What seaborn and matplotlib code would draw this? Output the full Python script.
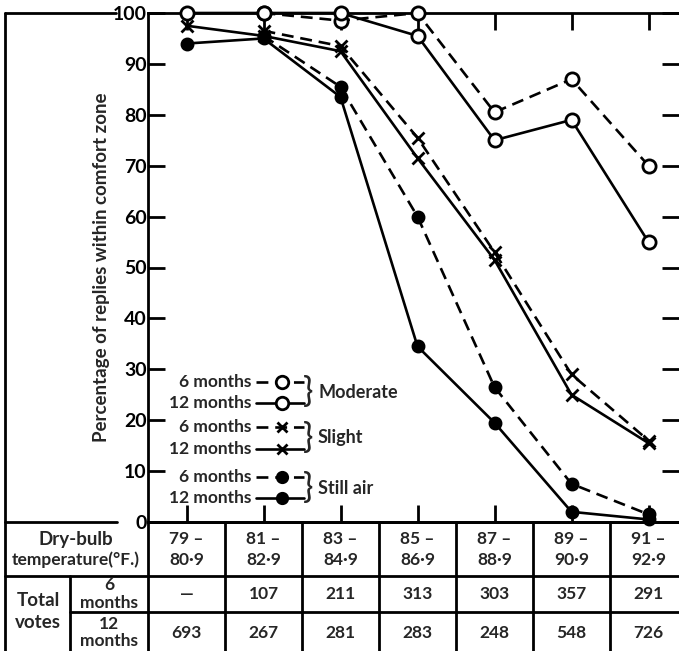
import numpy as np
import pandas as pd
import matplotlib
matplotlib.use("Agg")
import matplotlib.pyplot as plt
import seaborn as sns
from matplotlib.transforms import blended_transform_factory
from matplotlib.lines import Line2D

# ---------------- data ----------------
temp_low = ["79 –", "81 –", "83 –", "85 –", "87 –", "89 –", "91 –"]
temp_high = ["80·9", "82·9", "84·9", "86·9", "88·9", "90·9", "92·9"]
votes_6 = ["—", "107", "211", "313", "303", "357", "291"]
votes_12 = ["693", "267", "281", "283", "248", "548", "726"]

moderate_6 = [np.nan, 100, 98.5, 100, 80.5, 87, 70]
moderate_12 = [100, 100, 100, 95.5, 75, 79, 55]
slight_6 = [np.nan, 96.5, 93.5, 75.5, 53, 29, 16]
slight_12 = [97.5, 95.5, 92.5, 71.5, 51.5, 25, 15.5]
still_6 = [np.nan, 95.5, 85.5, 60, 26.5, 7.5, 1.5]
still_12 = [94, 95, 83.5, 34.5, 19.5, 2, 0.5]

y_ticks = [0, 10, 20, 30, 40, 50, 60, 70, 80, 90, 100]
y_label = "Percentage of replies within comfort zone"

# ---------------- style ----------------
sns.set_theme(style="white")
plt.rcParams["font.family"] = ["Lato", "DejaVu Sans"]
plt.rcParams["axes.linewidth"] = 2.0
FW = "bold"

W, H = 679, 651
fig = plt.figure(figsize=(W / 100, H / 100), dpi=100)
fig.patch.set_facecolor("white")

ax_l, ax_r, ax_t, ax_b = 148, 679, 13, 522
ax = fig.add_axes([ax_l / W, 1 - ax_b / H, (ax_r - ax_l) / W, (ax_b - ax_t) / H])
ax.set_facecolor("white")

x = np.arange(len(temp_low))
dash = (0, (4.5, 2.6))
series = [
    (moderate_6, "o", "white", dash, 9.5),
    (moderate_12, "o", "white", "-", 9.5),
    (slight_6, "x", "black", dash, 8.5),
    (slight_12, "x", "black", "-", 8.5),
    (still_6, "o", "black", dash, 8.0),
    (still_12, "o", "black", "-", 8.0),
]
for vals, mk, mfc, ls, ms in series:
    df = pd.DataFrame({"x": x, "y": vals}).dropna()
    sns.lineplot(data=df, x="x", y="y", ax=ax, color="black", marker=mk,
                 markerfacecolor=mfc, markeredgecolor="black", markeredgewidth=2.0,
                 markersize=ms, linestyle=ls, linewidth=1.9, clip_on=False,
                 zorder=3)

col_w = 77.0
ax.set_xlim(-0.5, -0.5 + (ax_r - ax_l) / col_w)
ax.set_ylim(0, 100)
ax.set_yticks(y_ticks)
ax.set_yticklabels([str(t) for t in y_ticks], fontsize=14, fontweight="bold")
ax.set_xticks(x)
ax.set_xticklabels([])
ax.tick_params(axis="both", direction="in", length=12, width=2.0, colors="black",
               top=True, right=True, bottom=True, left=True, pad=1)
ax.tick_params(axis="y", labelleft=True, labelright=False)
ax.set_xlabel("")
ax.set_ylabel(y_label, fontsize=13.5, labelpad=2, fontweight=FW)
for s in ax.spines.values():
    s.set_color("black")
    s.set_linewidth(2.0)
ax.spines["right"].set_visible(False)
ax.grid(False)

# ---------------- legend (manual, with braces) ----------------
px2ax_x = lambda px: (px - ax_l) / (ax_r - ax_l)
px2ax_y = lambda py: (ax_b - py) / (ax_b - ax_t)
legend_rows = [
    ("6 months", 382, "o", "white", dash, 9.0),
    ("12 months", 403, "o", "white", "-", 9.0),
    ("6 months", 427, "x", "black", dash, 7.5),
    ("12 months", 449, "x", "black", "-", 7.5),
    ("6 months", 477, "o", "black", dash, 7.5),
    ("12 months", 498, "o", "black", "-", 7.5),
]
for lab, py, mk, mfc, ls, ms in legend_rows:
    yy = px2ax_y(py)
    ax.text(px2ax_x(251), yy, lab, transform=ax.transAxes, ha="right",
            va="center", fontsize=12.5, fontweight=FW)
    ax.add_line(Line2D([px2ax_x(256), px2ax_x(304)], [yy, yy], transform=ax.transAxes,
                       color="black", lw=1.9, linestyle=ls, zorder=4))
    ax.add_line(Line2D([px2ax_x(282)], [yy], transform=ax.transAxes, color="black",
                       marker=mk, markersize=ms, markerfacecolor=mfc,
                       markeredgecolor="black", markeredgewidth=2.0, zorder=5))
groups = [("Moderate", 392), ("Slight", 438), ("Still air", 488)]
for name, py in groups:
    yy = px2ax_y(py)
    ax.text(px2ax_x(303), yy, "}", transform=ax.transAxes, ha="left", va="center",
            fontsize=25, fontweight="normal")
    ax.text(px2ax_x(318), yy, name, transform=ax.transAxes, ha="left", va="center",
            fontsize=13, fontweight=FW)

# ---------------- frame and table ----------------
def fig_line(x0, y0, x1, y1, lw=2.0):
    fig.add_artist(Line2D([x0 / W, x1 / W], [1 - y0 / H, 1 - y1 / H],
                          transform=fig.transFigure, color="black", lw=lw))

fig_line(5, 13, 116, 13)            # outer top
fig_line(5, 13, 5, H)               # outer left
fig_line(5, ax_b, 117, ax_b)        # table top, left part
fig_line(ax_l, ax_b, ax_r, ax_b)    # table top under axes
fig_line(ax_l, ax_b, ax_l, H)       # axis line into table
fig_line(5, 576, W, 576)            # header / 6 months
fig_line(70, 612, W, 612)           # 6 months / 12 months
fig_line(70, 576, 70, H)            # total votes column

tr = blended_transform_factory(ax.transData, fig.transFigure)
for i in range(len(temp_low)):
    xb = i + 0.5
    if xb < ax.get_xlim()[1]:
        fig.add_artist(Line2D([xb, xb], [1 - ax_b / H, 0], transform=tr,
                              color="black", lw=2.0))
for i in range(len(temp_low)):
    fig.text(i, 1 - 539 / H, temp_low[i], transform=tr, ha="center", va="center",
             fontsize=12.5, fontweight=FW)
    fig.text(i, 1 - 560 / H, temp_high[i], transform=tr, ha="center", va="center",
             fontsize=12.5, fontweight=FW)
    fig.text(i, 1 - 594 / H, votes_6[i], transform=tr, ha="center", va="center",
             fontsize=12.5, fontweight=FW)
    fig.text(i, 1 - 633 / H, votes_12[i], transform=tr, ha="center", va="center",
             fontsize=12.5, fontweight=FW)

fig.text(76 / W, 1 - 539 / H, "Dry-bulb", ha="center", va="center", fontsize=13.5,
         fontweight=FW)
fig.text(76 / W, 1 - 560 / H, "temperature(°F.)", ha="center", va="center",
         fontsize=12.5, fontweight=FW)
fig.text(38 / W, 1 - 601 / H, "Total", ha="center", va="center", fontsize=13.5,
         fontweight=FW)
fig.text(38 / W, 1 - 622 / H, "votes", ha="center", va="center", fontsize=13.5,
         fontweight=FW)
fig.text(109 / W, 1 - 585 / H, "6", ha="center", va="center", fontsize=12.5,
         fontweight=FW)
fig.text(109 / W, 1 - 603 / H, "months", ha="center", va="center", fontsize=12.5,
         fontweight=FW)
fig.text(109 / W, 1 - 624 / H, "12", ha="center", va="center", fontsize=12.5,
         fontweight=FW)
fig.text(109 / W, 1 - 641 / H, "months", ha="center", va="center", fontsize=12.5,
         fontweight=FW)

fig.savefig("out.png", dpi=100, facecolor="white")
